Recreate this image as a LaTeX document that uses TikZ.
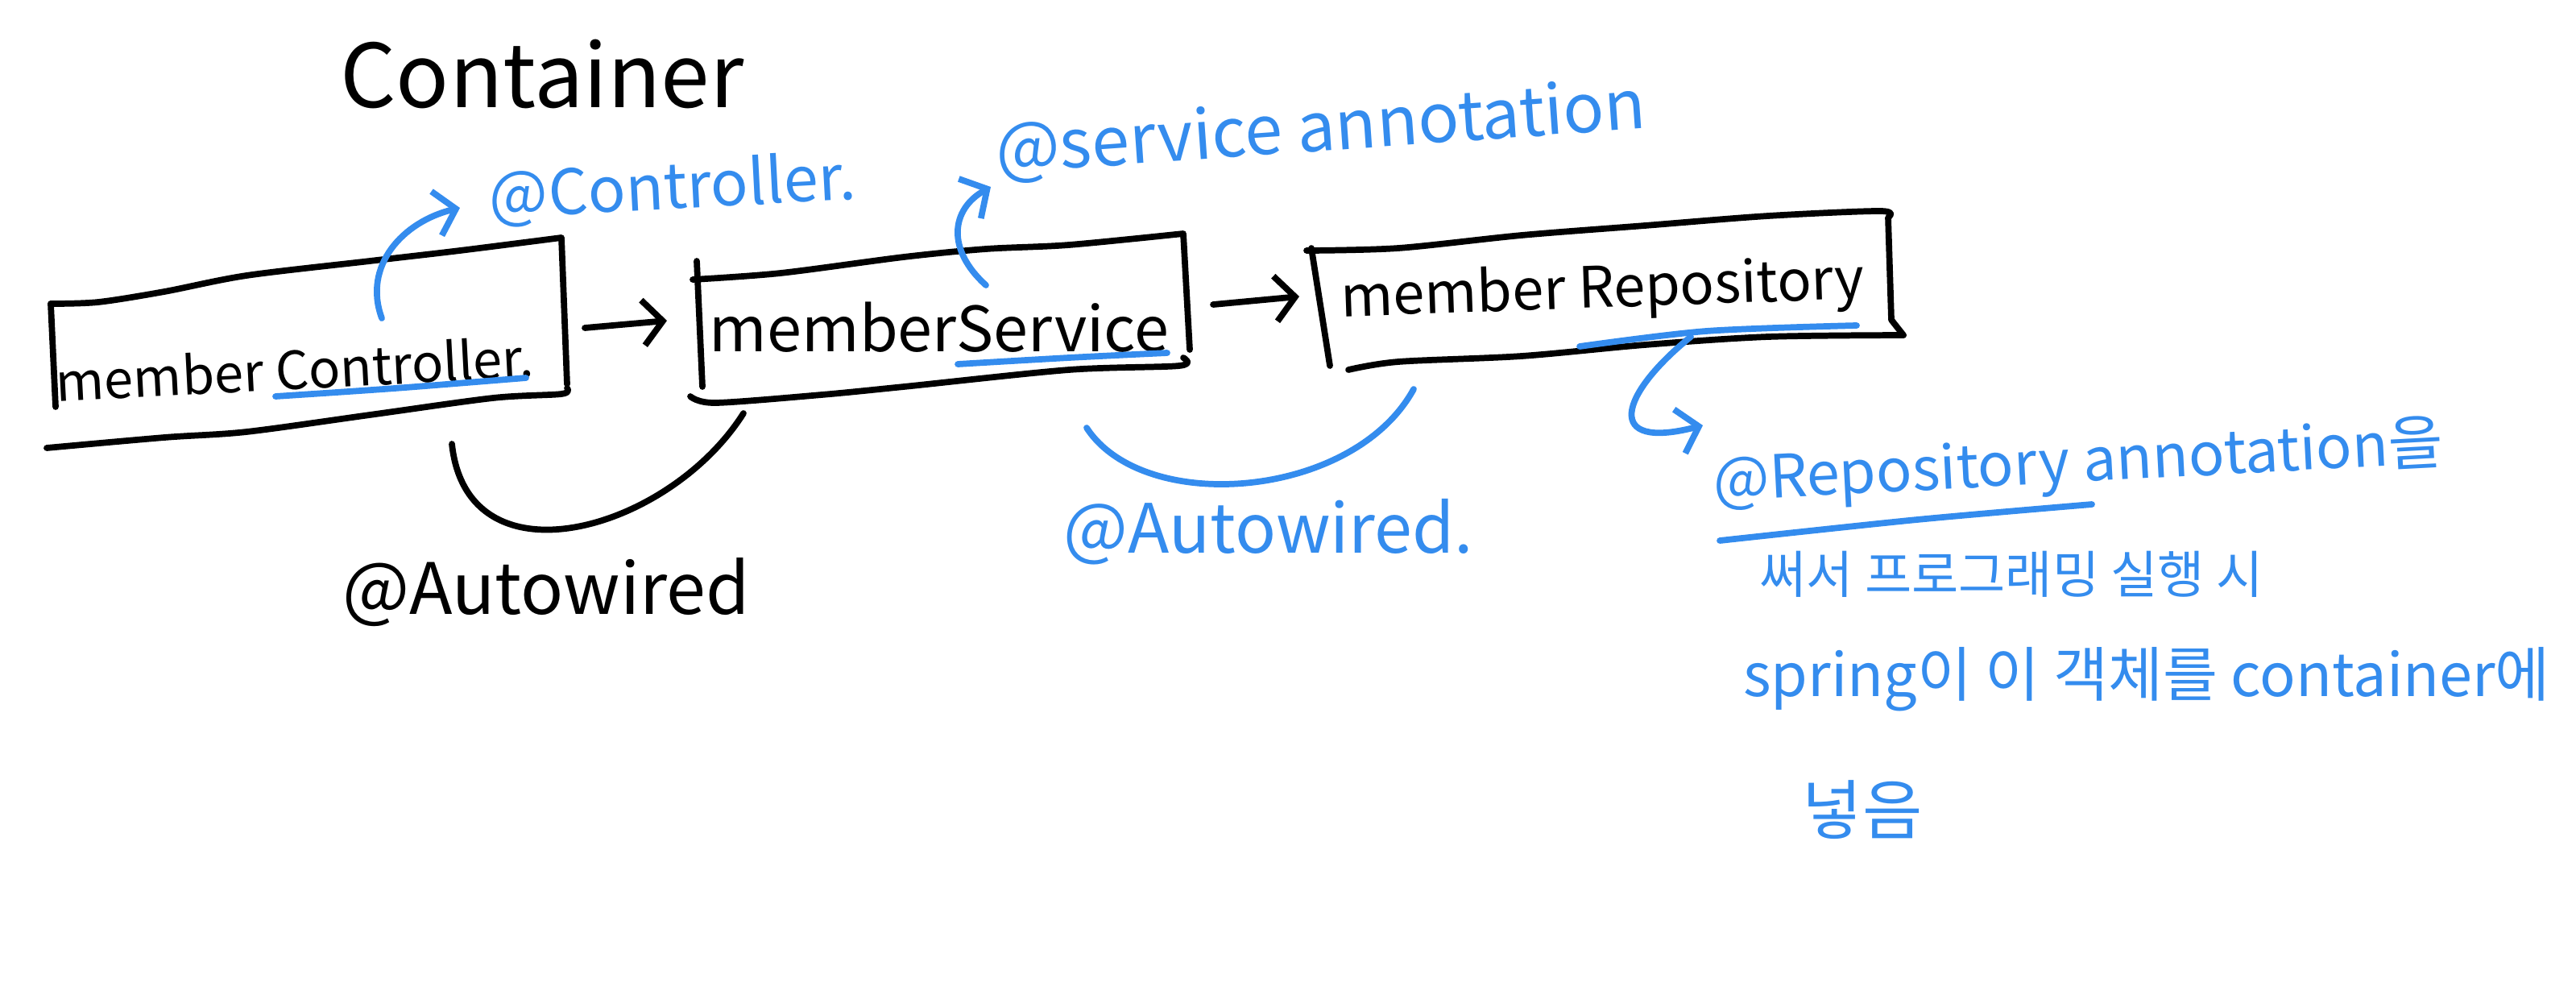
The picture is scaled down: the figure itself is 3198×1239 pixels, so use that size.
\documentclass[tikz,border=0pt]{standalone}
\usepackage{fontspec}
\setmainfont{Noto Sans CJK KR}
\usetikzlibrary{arrows.meta}
\definecolor{penblue}{RGB}{52,140,238}

\begin{document}
\begin{tikzpicture}[x=0.01cm,y=-0.01cm,
  ink/.style={line width=2.2pt,line cap=round,line join=round},
  blu/.style={text=penblue},
  hand/.style={inner sep=0pt,font=\fontsize{#1}{#1}\selectfont},
  tip/.style={-{Straight Barb[length=7pt,width=16pt]}}]
\useasboundingbox (0,0) rectangle (3198,1239);
% labels
\node[hand=31pt] (cont) at (673,92) {Container};
\node[hand=18.5pt,rotate=3] (ctrl) at (366,458) {member Controller.};
\node[hand=22pt] (svc) at (1166,406) {memberService};
\node[hand=20pt,rotate=2] (repo) at (1990,362) {member Repository};
\node[blu,hand=22pt,rotate=3] (atctrl) at (835,235) {@Controller.};
\node[blu,hand=24pt,rotate=4] (atsvc) at (1640,162) {@service annotation};
\node[hand=25pt] (awa) at (678,735) {@Autowired};
\node[blu,hand=24pt] (awb) at (1575,660) {@Autowired.};
\node[blu,hand=21pt,rotate=3] (atrepo) at (2580,577) {@Repository annotation을};
\node[blu,hand=18pt] (note1) at (2497,713) {써서 프로그래밍 실행 시};
\node[blu,hand=21pt] (note2) at (2665,843) {spring이 이 객체를 container에};
\node[blu,hand=23pt] (note3) at (2312,1005) {넣음};
% boxes
\draw[ink] (63,377) -- (69,505);
\draw[ink] plot[smooth] coordinates {(63,377) (122,375) (204,362) (306,342) (459,324) (571,311) (697,295)} -- (704,477);
\draw[ink] plot[smooth] coordinates {(704,482) (697,489) (612,494) (459,515) (306,536) (204,543) (58,556)};
\draw[ink] (865,324) -- (872,480);
\draw[ink] plot[smooth] coordinates {(860,347) (969,339) (1122,319) (1224,309) (1327,304) (1469,290)} -- (1477,434);
\draw[ink] plot[smooth] coordinates {(1469,444) (1464,454) (1327,459) (1122,480) (1020,490) (888,500) (857,492)};
\draw[ink] (1628,308) -- (1651,454);
\draw[ink] plot[smooth] coordinates {(1622,311) (1736,308) (1889,292) (2042,280) (2195,268) (2335,262) (2344,270)} -- (2348,397) -- (2363,416);
\draw[ink] plot[smooth] coordinates {(2363,416) (2195,418) (2042,428) (1889,442) (1736,449) (1674,459)};
% underlines
\draw[ink,penblue] plot[smooth] coordinates {(342,492) (490,482) (653,469)};
\draw[ink,penblue] plot[smooth] coordinates {(1189,452) (1327,444) (1449,438)};
\draw[ink,penblue] plot[smooth] coordinates {(1961,430) (2118,411) (2305,404)};
\draw[ink,penblue] plot[smooth] coordinates {(2135,671) (2380,645) (2597,626)};
% connectors
\coordinate (a1s) at (726,407); \coordinate (a1e) at (828,398);
\coordinate (a2s) at (1506,378); \coordinate (a2e) at (1613,368);
\draw[ink,tip] (a1s) -- (a1e);
\draw[ink,tip] (a2s) -- (a2e);
\coordinate (c1) at (474,395); \coordinate (c2) at (571,258);
\draw[ink,penblue,tip] (c1) .. controls (450,330) and (500,275) .. (c2);
\coordinate (s1) at (1224,354); \coordinate (s2) at (1230,232);
\draw[ink,penblue,tip] (s1) .. controls (1175,310) and (1180,260) .. (s2);
\coordinate (r1) at (2099,418); \coordinate (r2) at (2114,528);
\draw[ink,penblue,tip] (r1) .. controls (2010,490) and (1990,560) .. (r2);
\coordinate (w1) at (561,551); \coordinate (w2) at (923,513);
\draw[ink] (w1) .. controls (580,730) and (830,660) .. (w2);
\coordinate (v1) at (1349,531); \coordinate (v2) at (1755,483);
\draw[ink,penblue] (v1) .. controls (1420,640) and (1680,620) .. (v2);
\end{tikzpicture}
\end{document}
